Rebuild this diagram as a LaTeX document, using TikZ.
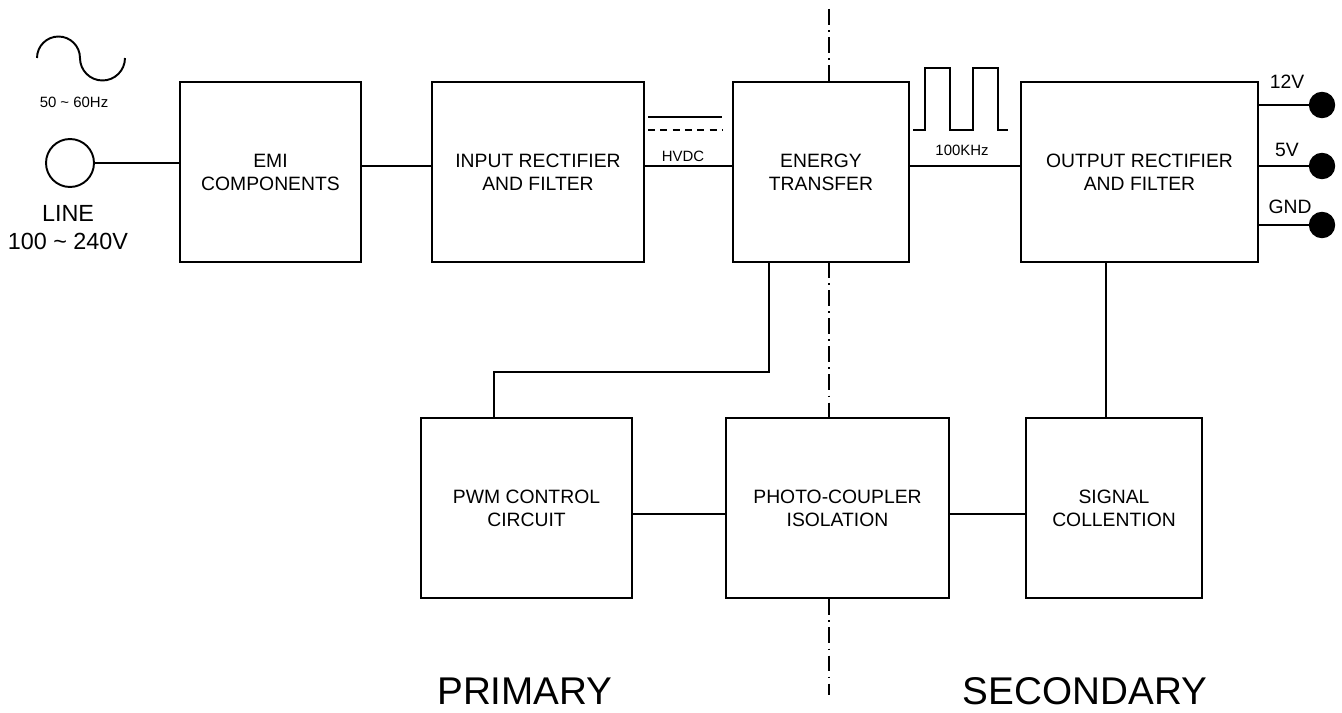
\documentclass[tikz,border=0pt]{standalone}
\usepackage{fontspec}
\setmainfont{Liberation Sans}
\usetikzlibrary{calc}
\tikzset{
  blk/.style={draw,line width=1.1pt,fill=white,minimum height=3.6cm,inner sep=2pt,align=center,font=\fontsize{11}{13.1}\selectfont},
  wire/.style={line width=1.1pt},
  isol/.style={line width=1.1pt,dash pattern=on 9pt off 3pt on 1pt off 3pt},
  term/.style={circle,draw,line width=0.8pt,fill=black,minimum size=0.5cm,inner sep=0pt},
  src/.style={circle,draw,line width=1.1pt,minimum size=0.96cm,inner sep=0pt},
  small/.style={font=\fontsize{8.5}{10}\selectfont,inner sep=0pt},
  outlbl/.style={font=\fontsize{11}{13}\selectfont,inner sep=0pt},
  linelbl/.style={font=\fontsize{13.3}{16}\selectfont,align=center,inner sep=0pt},
  side/.style={font=\fontsize{22}{26}\selectfont,inner sep=0pt},
}

\begin{document}
\begin{tikzpicture}[x=0.02cm,y=-0.02cm]
  \useasboundingbox (0,0) rectangle (1342,713);
  % isolation barrier
  \coordinate (bartop) at (829,9);
  \coordinate (barbot) at (829,695);
  \draw[isol] (bartop) -- (barbot);
  % mains input
  \draw[wire] (37,58) arc (180:0:0.43cm) arc (180:360:0.45cm);
  \node[small] (freq) at (74,102) {50 \textasciitilde{} 60Hz};
  \node[src] (src) at (70,163) {};
  \node[linelbl] (line) at (68,228) {LINE\\100 \textasciitilde{} 240V};
  % upper row
  \node[blk,minimum width=3.62cm] (emi) at (270.5,172) {EMI\\COMPONENTS};
  \node[blk,minimum width=4.24cm] (inrect) at (538,172) {INPUT RECTIFIER\\AND FILTER};
  \node[blk,minimum width=3.52cm] (energy) at (821,172) {ENERGY\\TRANSFER};
  \node[blk,minimum width=4.74cm] (outrect) at (1139.5,172) {OUTPUT RECTIFIER\\AND FILTER};
  % lower row
  \node[blk,minimum width=4.22cm] (pwm) at (526.5,508) {PWM CONTROL\\CIRCUIT};
  \node[blk,minimum width=4.46cm] (photo) at (837.5,508) {PHOTO-COUPLER\\ISOLATION};
  \node[blk,minimum width=3.52cm] (signal) at (1114,508) {SIGNAL\\COLLENTION};
  % connections
  \draw[wire] (src.east) -- (src.east -| emi.west);
  \draw[wire] ([yshift=3.6pt]emi.east) -- ([yshift=3.6pt]inrect.west);
  \draw[wire] ([yshift=3.6pt]inrect.east) -- ([yshift=3.6pt]energy.west);
  \draw[wire] ([yshift=3.6pt]energy.east) -- ([yshift=3.6pt]outrect.west);
  \draw[wire] ([xshift=-1.04cm]energy.south) -- ++(0,-2.18cm) -| ([xshift=-0.65cm]pwm.north);
  \draw[wire] ([xshift=-0.16cm]signal.north) -- ([xshift=-0.16cm]signal.north |- outrect.south);
  \draw[wire] ([yshift=-3.4pt]pwm.east) -- ([yshift=-3.4pt]photo.west);
  \draw[wire] ([yshift=-3.4pt]photo.east) -- ([yshift=-3.4pt]signal.west);
  % HVDC
  \draw[wire] (648,117) -- (722,117);
  \draw[wire,dash pattern=on 4pt off 3pt] (648,130) -- (722,130);
  \node[small] (hvdc) at (683,156) {HVDC};
  % 100KHz
  \draw[wire] (913,130) -- (925,130) -- (925,68) -- (950,68) -- (950,130) -- (973,130)
    -- (973,68) -- (998,68) -- (998,130) -- (1008,130);
  \node[small] (fsw) at (962,150) {100KHz};
  % outputs
  \node[term] (t12) at (1322,105) {};
  \node[term] (t5) at (1322,166) {};
  \node[term] (tgnd) at (1322,225) {};
  \draw[wire] (outrect.east |- t12) -- (t12);
  \draw[wire] (outrect.east |- t5) -- (t5);
  \draw[wire] (outrect.east |- tgnd) -- (tgnd);
  \node[outlbl] (l12) at (1287,82) {12V};
  \node[outlbl] (l5) at (1287,150) {5V};
  \node[outlbl] (lgnd) at (1290,207) {GND};
  % sides
  \node[side] (prim) at (525,691) {PRIMARY};
  \node[side] (sec) at (1085,691) {SECONDARY};
\end{tikzpicture}
\end{document}
